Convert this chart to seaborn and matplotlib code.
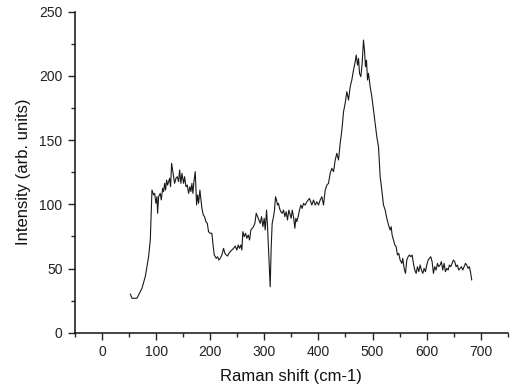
import matplotlib
matplotlib.use("Agg")
import matplotlib.pyplot as plt
import seaborn as sns
import pandas as pd
from matplotlib.ticker import MultipleLocator

# Raman shift (cm-1) and intensity (arb. units)
raman_shift = [
    52.2, 55.3, 64.5, 73.8, 79.9, 86.1, 89.2, 91.0, 92.3, 95.3, 97.2, 99.6, 101.5, 102.7,
    104.6, 107.6, 109.5, 112.0, 113.8, 115.7, 117.5, 119.3, 121.2, 123.0, 124.9, 126.7,
    128.6, 130.4, 134.1, 136.6, 139.0, 141.5, 143.4, 145.8, 147.7, 150.7, 152.6, 155.1,
    157.5, 160.0, 162.4, 164.3, 166.1, 168.0, 169.8, 172.3, 174.8, 176.6, 178.5, 180.9,
    182.8, 184.6, 187.1, 189.5, 192.0, 194.5, 196.9, 200.0,
    203.1, 204.9, 207.4, 211.1, 213.5, 216.0, 218.5, 221.5, 224.6, 227.1, 229.6, 232.0,
    234.5, 236.9, 240.0, 243.1, 246.2, 249.3, 251.7, 254.2, 256.6, 258.5, 260.3, 262.8,
    265.3, 267.7, 270.2, 272.7, 275.1, 277.6, 280.0, 282.5, 285.0, 287.4, 289.9, 292.4,
    294.8, 297.3, 299.7, 301.6, 304.1, 305.9, 308.4, 310.8, 312.7, 314.5, 317.0, 318.8,
    320.7, 322.5, 324.4, 326.2, 328.1, 330.5, 333.0, 335.5, 337.9, 340.4, 342.8, 345.3,
    347.8, 349.6, 351.5, 353.9, 356.4, 358.2, 360.1, 362.5, 365.0, 367.5, 369.9, 372.4,
    375.5, 378.6, 383.5,
    387.8, 390.9, 394.0, 397.1, 400.2, 403.2, 406.3, 409.4, 412.5, 415.6, 418.6, 421.7,
    424.8, 427.9, 431.0, 434.0, 437.1,
    440.2, 443.3, 446.4, 449.4, 452.5, 455.6, 458.7, 461.7, 464.8, 467.9, 469.8, 472.2,
    474.1, 475.9, 478.4, 480.8, 483.3, 485.1, 487.0, 488.8, 490.7, 492.5, 495.6, 498.7,
    501.8, 504.8, 507.9, 511.0,
    514.1, 517.1, 520.2, 523.3, 526.4, 529.5, 532.5, 534.4, 536.2, 538.7, 541.2, 543.6,
    546.1, 548.5,
    551.0, 554.1, 555.9, 558.4, 560.9, 563.3, 565.8, 568.2, 570.7, 573.2, 575.6, 578.1,
    580.6, 583.0, 585.5, 587.9, 590.4, 592.9, 595.3, 597.8, 600.3, 602.7, 605.2, 607.6,
    610.1, 612.6, 615.0, 617.5, 620.0, 622.4, 624.9, 627.3, 629.8, 632.3, 634.7, 637.2,
    639.7, 642.1, 644.6, 647.0, 649.5, 652.0, 654.4, 656.9, 659.4, 661.8, 664.3, 666.8,
    669.2, 671.7, 674.1, 676.6, 679.1, 681.5, 683.4,
]
intensity = [
    30.2, 26.8, 26.8, 34.6, 43.7, 59.2, 72.2, 95.6, 111.1, 107.3, 108.5, 100.8, 106.0, 93.0,
    106.0, 108.5, 103.4, 112.4, 109.9, 116.3, 111.1, 118.9, 115.0, 117.6, 120.2, 113.7,
    131.9, 126.7, 116.3, 120.2, 121.5, 117.6, 126.7, 116.3, 124.1, 116.3, 121.5, 113.7,
    115.0, 108.5, 113.7, 109.9, 116.3, 108.5, 117.6, 125.4, 99.5, 107.3, 100.8, 111.1,
    103.4, 96.9, 91.7, 90.4, 86.5, 85.2, 78.7, 77.4,
    77.4, 69.6, 60.5, 57.9, 59.2, 56.6, 57.9, 60.5, 65.7, 61.8, 60.5, 59.7,
    61.8, 63.1, 64.4, 65.7, 67.5, 64.4, 68.3, 65.7, 68.3, 64.4, 78.7, 74.8,
    77.4, 73.5, 76.1, 72.2, 80.0, 81.3, 82.6, 85.2, 93.0, 90.4, 87.8, 85.2,
    90.4, 82.6, 89.1, 80.0, 95.5, 82.6, 59.2, 35.8, 67.0, 85.2, 90.4, 95.5,
    105.9, 103.3, 99.4, 100.7, 96.8, 94.2, 93.0, 95.5, 90.4, 94.2, 87.8, 95.5,
    91.7, 89.1, 95.5, 90.4, 81.3, 89.1, 86.5, 90.4, 95.5, 99.4, 96.8, 100.7,
    99.4, 102.0, 104.6,
    99.4, 103.3, 99.4, 102.0, 99.4, 103.3, 105.9, 99.4, 111.1, 115.0, 116.3, 124.1,
    128.0, 125.4, 134.5, 139.7, 134.5,
    147.4, 157.8, 172.1, 178.6, 187.7, 181.2, 191.6, 196.8, 204.6, 211.0, 216.2, 208.4,
    213.6, 202.0, 199.4, 209.7, 227.9, 220.1, 207.1, 212.3, 196.8, 202.0, 191.6, 183.8,
    173.4, 163.0, 152.6, 144.8,
    121.5, 111.2, 99.5, 95.6, 89.1, 83.9, 80.0, 82.6, 76.1, 72.2, 68.3, 67.0,
    60.5, 61.8,
    56.6, 54.0, 57.9, 50.1, 46.2, 56.6, 59.2, 60.5, 59.2, 60.5, 54.0, 48.8,
    46.2, 51.4, 47.5, 52.7, 48.8, 46.2, 50.1, 47.5, 52.7, 56.6, 57.9, 59.2,
    55.3, 46.2, 51.4, 48.8, 54.0, 51.4, 52.7, 55.3, 48.8, 54.0, 47.5, 50.1,
    48.8, 52.7, 51.4, 54.0, 56.6, 55.3, 51.4, 52.7, 48.8, 50.1, 51.4, 48.8,
    51.4, 54.0, 52.7, 50.1, 51.4, 46.2, 41.0,
]

x_ticks = [0, 100, 200, 300, 400, 500, 600, 700]
y_ticks = [0, 50, 100, 150, 200, 250]

df = pd.DataFrame({"shift": raman_shift, "intensity": intensity})

sns.set_theme(style="ticks")
plt.rcParams["font.family"] = ["Liberation Sans", "DejaVu Sans"]

fig = plt.figure(figsize=(5.15, 3.89), dpi=100)
ax = fig.add_axes([0.1456, 0.1447, 0.8404, 0.8253])

sns.lineplot(data=df, x="shift", y="intensity", ax=ax, sort=False,
             estimator=None, color="#1a1a1a", linewidth=0.8)

ax.set_xlim(-50, 750)
ax.set_ylim(0, 250)
ax.set_xticks(x_ticks)
ax.set_yticks(y_ticks)
ax.xaxis.set_minor_locator(MultipleLocator(50))
ax.yaxis.set_minor_locator(MultipleLocator(25))
ax.tick_params(axis="both", which="major", direction="out", length=5, width=1,
               labelsize=10, colors="#222222", pad=4)
ax.tick_params(axis="both", which="minor", direction="out", length=3, width=1)

for s in ["top", "right"]:
    ax.spines[s].set_visible(False)
for s in ["left", "bottom"]:
    ax.spines[s].set_linewidth(1.1)
    ax.spines[s].set_color("#111111")

ax.set_xlabel("Raman shift (cm-1)", fontsize=12, color="#111111", labelpad=7)
ax.set_ylabel("Intensity (arb. units)", fontsize=12, color="#111111", labelpad=6)

fig.savefig("out.png", dpi=100)
